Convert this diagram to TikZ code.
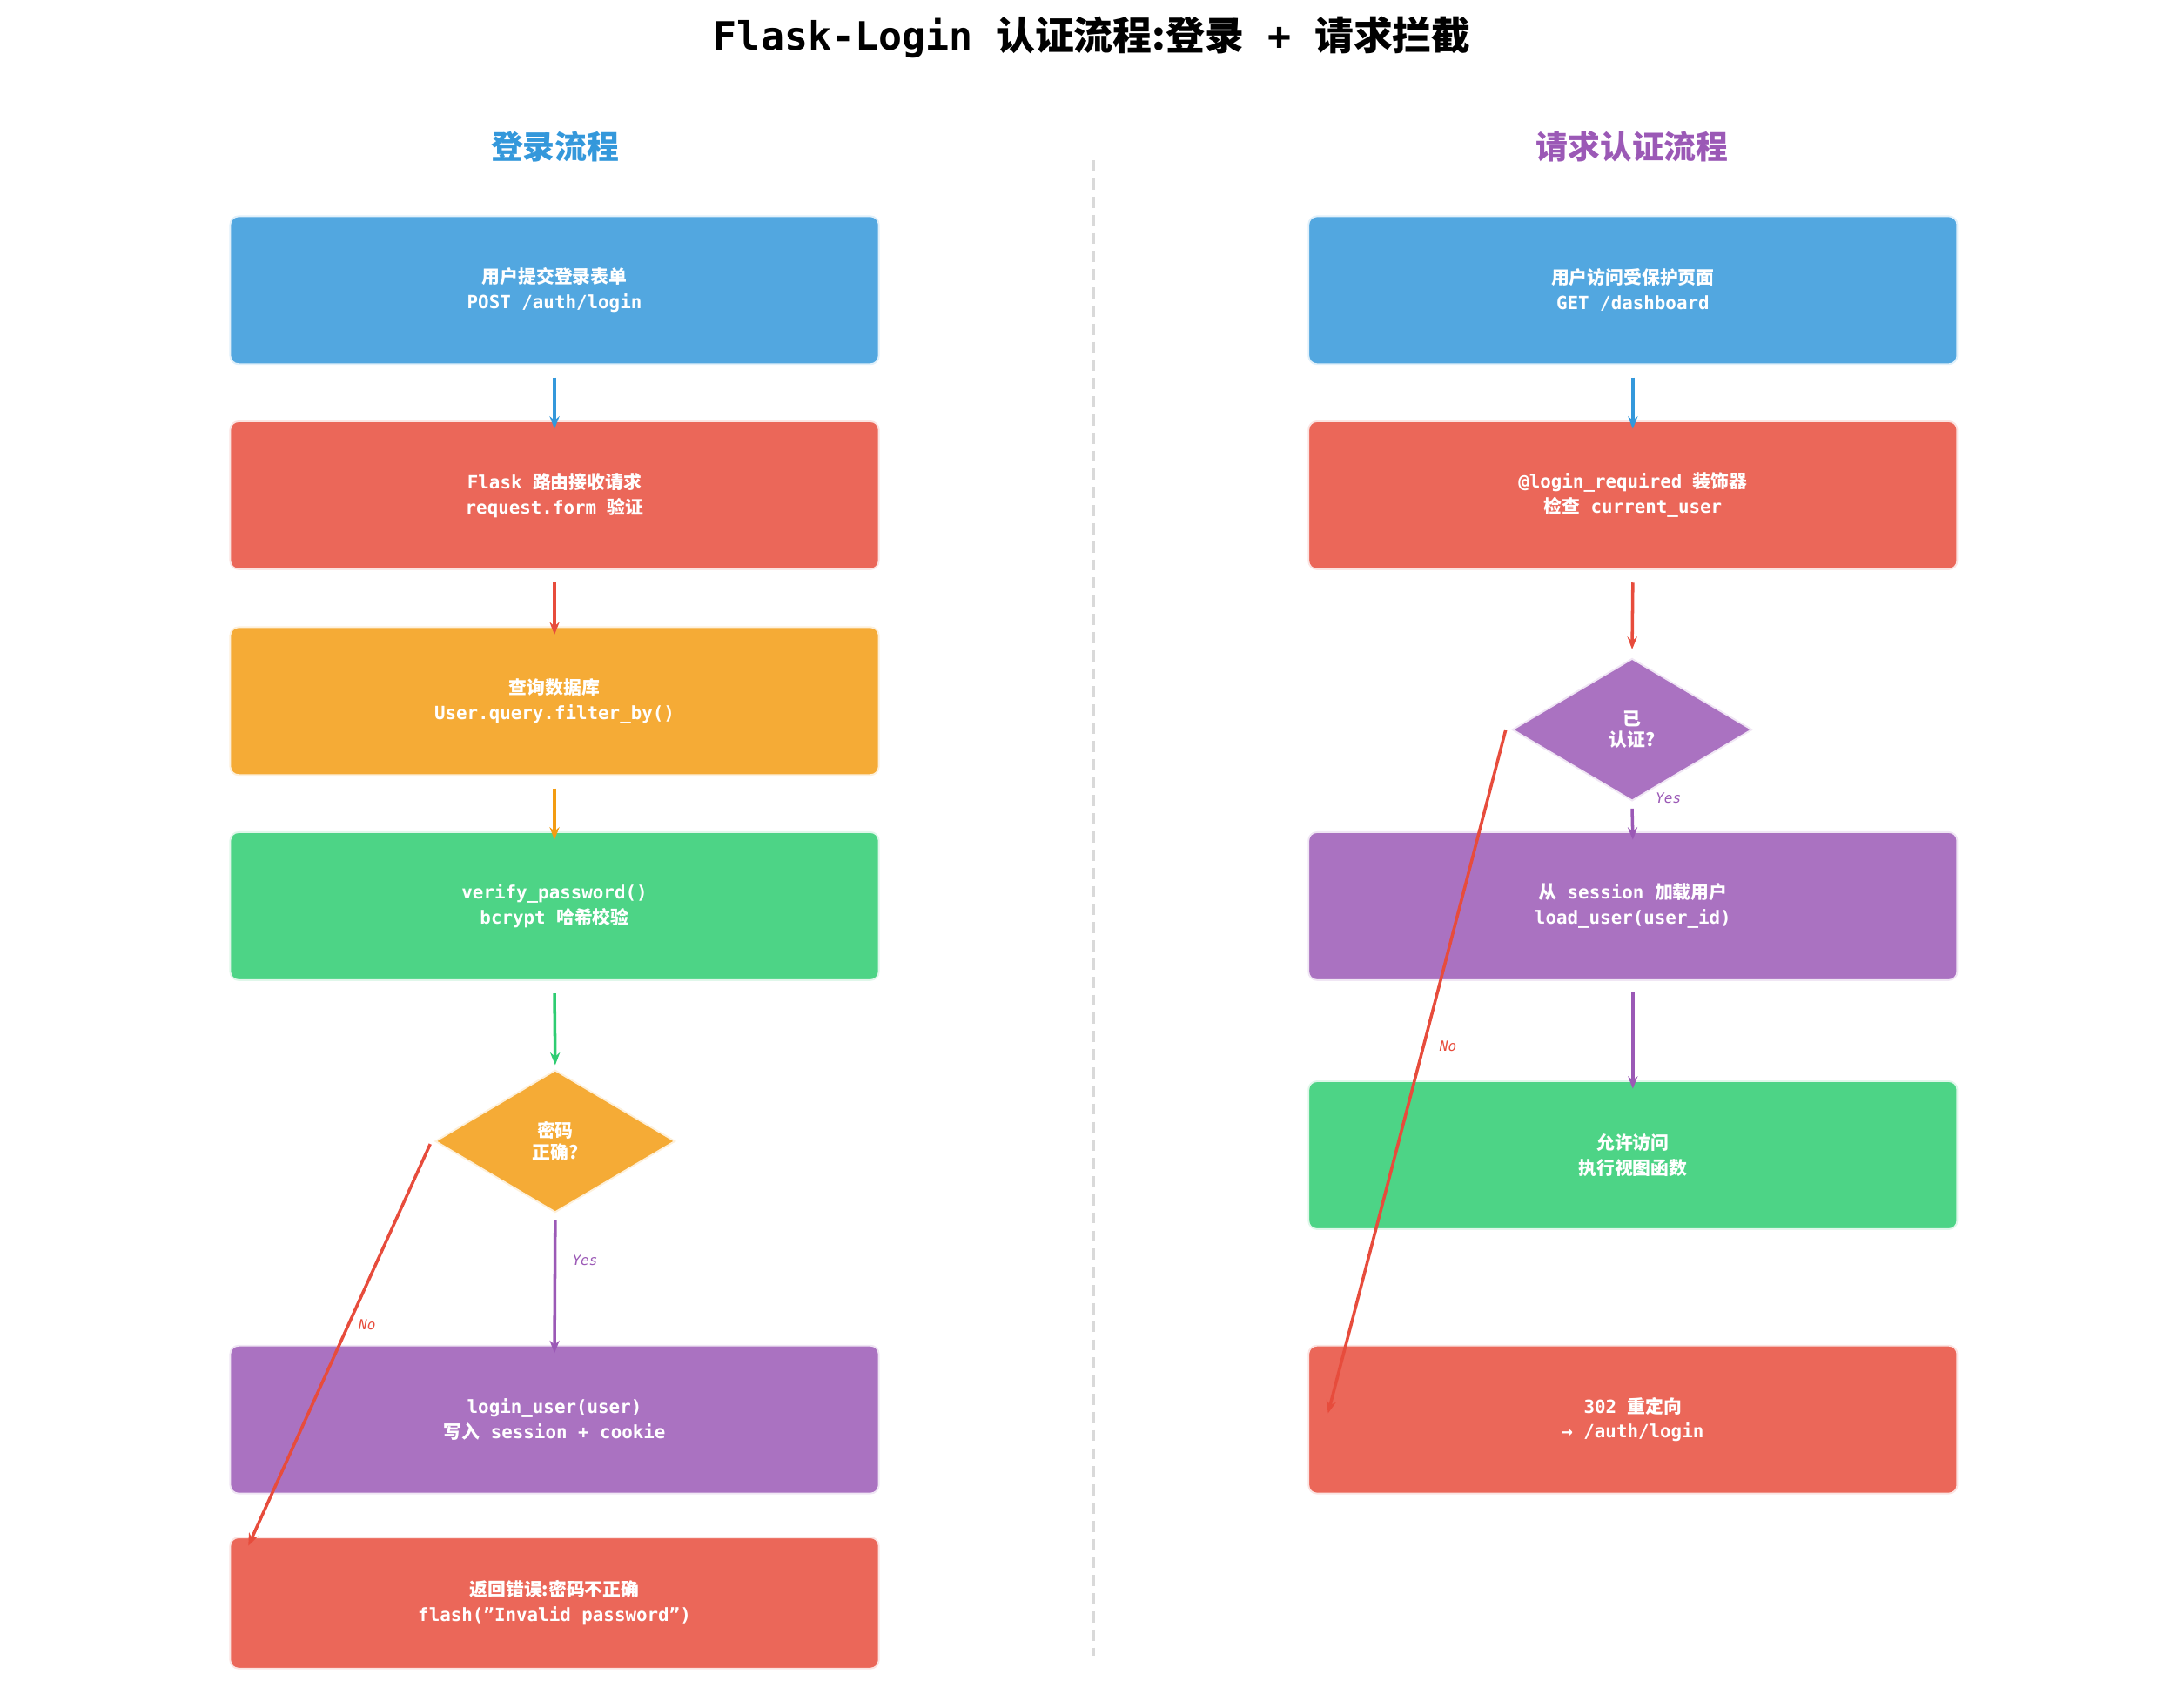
\documentclass[tikz,border=0pt]{standalone}
\usepackage{fontspec}
\setmainfont{DejaVu Sans Mono}
\newfontfamily\cjk{Noto Sans CJK SC}
\usetikzlibrary{shapes.geometric,arrows.meta}
\definecolor{cB}{HTML}{3498DB}\definecolor{cR}{HTML}{E74C3C}
\definecolor{cO}{HTML}{F39C12}\definecolor{cG}{HTML}{2ECC71}
\definecolor{cP}{HTML}{9B59B6}
\newcommand{\zh}[1]{{\cjk #1}}
\begin{document}
\begin{tikzpicture}[x=1pt,y=-1pt,
 box/.style={rounded corners=6pt,minimum width=465pt,minimum height=106pt,fill=#1!85!white,draw=#1!15!white,line width=1.2pt,text=white,font=\bfseries\fontsize{13}{18}\selectfont,align=center},
 dia/.style={diamond,aspect=1.69,minimum width=172pt,minimum height=102pt,inner sep=0pt,fill=#1!85!white,draw=#1!15!white,line width=1.2pt,text=white,font=\bfseries\fontsize{13}{15}\selectfont,align=center},
 ar/.style={draw=#1,line width=2.2pt,-{Stealth[length=9pt,width=7pt]}},
 lab/.style={font=\itshape\fontsize{10}{12}\selectfont,text=#1}]
\useasboundingbox (0,0) rectangle (1560.6,1223.7);
\node[font=\bfseries\fontsize{28}{30}\selectfont] (title) at (783,27) {Flask-Login \zh{认证流程:登录} + \zh{请求拦截}};
\node[text=cB,font=\cjk\bfseries\fontsize{23}{25}\selectfont] (hl) at (398,105) {登录流程};
\node[text=cP,font=\cjk\bfseries\fontsize{23}{25}\selectfont] (hr) at (1170,105) {请求认证流程};
\coordinate (d1) at (784,115); \coordinate (d2) at (784,1187);
\draw[gray!30,dashed,line width=1.5pt,dash pattern=on 8pt off 5pt] (d1) -- (d2);
% left
\node[box=cB] (L1) at (397.5,208) {\zh{用户提交登录表单}\\POST /auth/login};
\node[box=cR] (L2) at (397.5,355) {Flask \zh{路由接收请求}\\request.form \zh{验证}};
\node[box=cO] (L3) at (397.5,502.5) {\zh{查询数据库}\\User.query.filter\_by()};
\node[box=cG] (L4) at (397.5,649.5) {verify\_password()\\bcrypt \zh{哈希校验}};
\node[dia=cO] (LD) at (398,818) {\zh{密码}\\\zh{正确?}};
\node[box=cP] (L5) at (397.5,1017.5) {login\_user(user)\\\zh{写入} session + cookie};
\node[box=cR,minimum height=94pt] (L6) at (397.5,1149) {\zh{返回错误:密码不正确}\\flash("Invalid password")};
\draw[ar=cB] ([yshift=-9pt]L1.south) -- ([yshift=-6pt]L2.north);
\draw[ar=cR] ([yshift=-9pt]L2.south) -- ([yshift=-6pt]L3.north);
\draw[ar=cO] ([yshift=-9pt]L3.south) -- ([yshift=-6pt]L4.north);
\draw[ar=cG] ([yshift=-9pt]L4.south) -- ([yshift=3pt]LD.north);
\draw[ar=cP] ([yshift=-5pt]LD.south) -- node[lab=cP,right=8pt,pos=0.3]{Yes} ([yshift=-6pt]L5.north);
\coordinate (Le) at (178,1108);
\draw[ar=cR] ([xshift=-3pt,yshift=-2pt]LD.west) -- node[lab=cR,right=3pt,pos=0.45]{No} (Le);
% right
\node[box=cB] (R1) at (1170.5,208) {\zh{用户访问受保护页面}\\GET /dashboard};
\node[box=cR] (R2) at (1170.5,355) {@login\_required \zh{装饰器}\\\zh{检查} current\_user};
\node[dia=cP] (RD) at (1170,523) {\zh{已}\\\zh{认证?}};
\node[box=cP] (R3) at (1170.5,649.5) {\zh{从} session \zh{加载用户}\\load\_user(user\_id)};
\node[box=cG] (R4) at (1170.5,828) {\zh{允许访问}\\\zh{执行视图函数}};
\node[box=cR] (R5) at (1170.5,1017.5) {302 \zh{重定向}\\→ /auth/login};
\draw[ar=cB] ([yshift=-9pt]R1.south) -- ([yshift=-6pt]R2.north);
\draw[ar=cR] ([yshift=-9pt]R2.south) -- ([yshift=6pt]RD.north);
\draw[ar=cP] ([yshift=-5pt]RD.south) -- ([yshift=-6pt]R3.north);
\node[lab=cP] (ry) at (1196,572) {Yes};
\draw[ar=cP] ([yshift=-8pt]R3.south) -- ([yshift=-6pt]R4.north);
\coordinate (Re) at (952,1013);
\draw[ar=cR] ([xshift=-4pt]RD.west) -- (Re);
\node[lab=cR] (rn) at (1038,750) {No};
\end{tikzpicture}
\end{document}
